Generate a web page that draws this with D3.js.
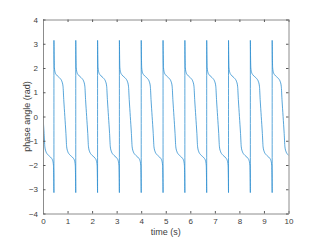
<!DOCTYPE html>
<html>
<head>
<meta charset="utf-8">
<script src="https://d3js.org/d3.v7.min.js"></script>
<style>
  body { margin: 0; background: #fff; }
  text { font-family: "Liberation Sans", Arial, sans-serif; fill: #404040; }
</style>
</head>
<body>
<div id="chart"></div>
<script>
    // times (s) where the phase wraps from -pi to +pi
    var cycleStarts = [-0.444, 0.445, 1.334, 2.223, 3.112, 4.001, 4.89, 5.779, 6.668, 7.557, 8.446, 9.335];

    // shape of one cycle: time after the wrap (s) and phase angle (rad)
    var cycleOffsets = [0, 0.008, 0.02, 0.05, 0.1, 0.18, 0.26, 0.32, 0.37, 0.40, 0.4445, 0.489, 0.519, 0.569, 0.629, 0.709, 0.789, 0.839, 0.869, 0.881, 0.889];
    var cycleAngles  = [3.14, 2.5, 2.0, 1.82, 1.72, 1.64, 1.56, 1.46, 1.25, 0.7, 0, -0.7, -1.25, -1.46, -1.56, -1.64, -1.72, -1.82, -2.0, -2.5, -3.14];

    var xTicks = [0, 1, 2, 3, 4, 5, 6, 7, 8, 9, 10];
    var yTicks = [-4, -3, -2, -1, 0, 1, 2, 3, 4];

    var data = [];
    cycleStarts.forEach(function(s) {
        cycleOffsets.forEach(function(o, i) {
            data.push({ t: s + o, a: cycleAngles[i] });
        });
    });

    var W = 321, H = 242;
    var margin = { top: 19.5, right: 32.5, bottom: 28.5, left: 43 };
    var width = W - margin.left - margin.right,
        height = H - margin.top - margin.bottom;

    var svg = d3.select("#chart").append("svg")
        .attr("width", W)
        .attr("height", H);

    var g = svg.append("g")
        .attr("transform", "translate(" + margin.left + "," + margin.top + ")");

    var x = d3.scaleLinear().domain([0, 10]).range([0, width]);
    var y = d3.scaleLinear().domain([-4, 4]).range([height, 0]);

    g.append("clipPath").attr("id", "clip")
        .append("rect").attr("width", width).attr("height", height);

    var line = d3.line()
        .curve(d3.curveMonotoneX)
        .x(function(d) { return x(d.t); })
        .y(function(d) { return y(d.a); });

    g.append("path")
        .datum(data)
        .attr("clip-path", "url(#clip)")
        .attr("fill", "none")
        .attr("stroke", "#2f8fd0")
        .attr("stroke-width", 0.8)
        .attr("d", line);

    var tk = 2.5;
    function styleAxis(sel) {
        sel.select(".domain").attr("stroke", "#8c8c8c");
        sel.selectAll(".tick line").attr("stroke", "#5a5a5a");
        sel.selectAll("text").attr("font-size", "8px").attr("fill", "#404040");
    }

    g.append("g")
        .attr("transform", "translate(0," + height + ")")
        .call(d3.axisBottom(x).tickValues(xTicks).tickSizeInner(-tk).tickSizeOuter(0).tickPadding(5))
        .call(styleAxis);

    g.append("g")
        .call(d3.axisTop(x).tickValues(xTicks).tickSizeInner(-tk).tickSizeOuter(0).tickFormat(""))
        .call(styleAxis);

    g.append("g")
        .call(d3.axisLeft(y).tickValues(yTicks).tickSizeInner(-tk).tickSizeOuter(0).tickPadding(5))
        .call(styleAxis);

    g.append("g")
        .attr("transform", "translate(" + width + ",0)")
        .call(d3.axisRight(y).tickValues(yTicks).tickSizeInner(-tk).tickSizeOuter(0).tickFormat(""))
        .call(styleAxis);

    g.selectAll(".tick text").attr("font-family", "'Liberation Sans', Arial, sans-serif");

    svg.append("text")
        .attr("x", margin.left + width / 2)
        .attr("y", 235)
        .attr("text-anchor", "middle")
        .attr("font-size", "9px")
        .text("time (s)");

    svg.append("text")
        .attr("transform", "translate(30," + (margin.top + height / 2) + ") rotate(-90)")
        .attr("text-anchor", "middle")
        .attr("font-size", "9px")
        .text("phase angle (rad)");
</script>
</body>
</html>
